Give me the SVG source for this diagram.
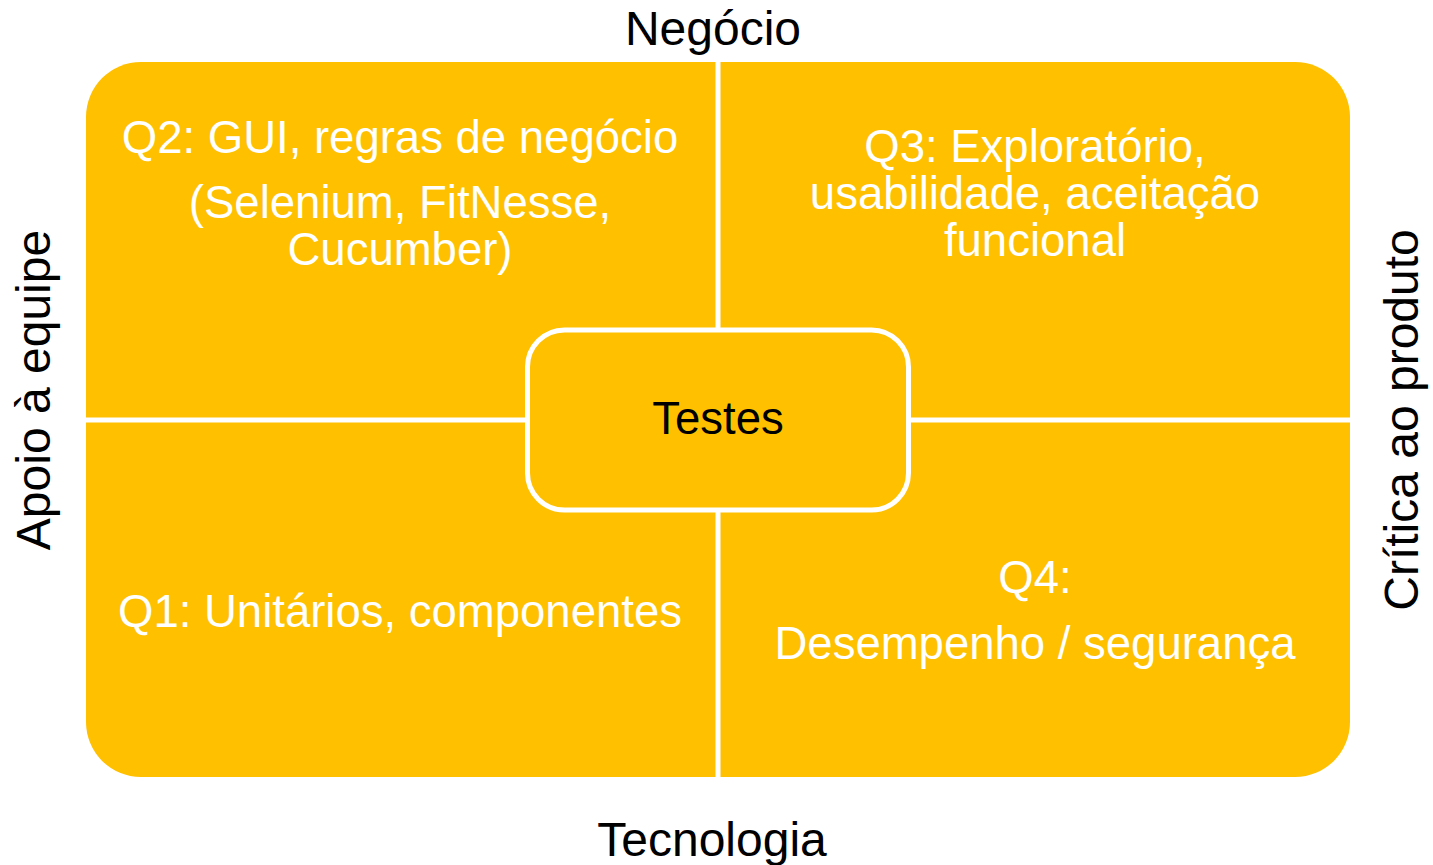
<svg xmlns="http://www.w3.org/2000/svg" width="1433" height="865" viewBox="0 0 1433 865">
<style>
.q{fill:#FFC000;}
.t{font-family:"Liberation Sans",Arial,sans-serif;fill:#FFFFFF;font-size:45.5px;text-anchor:middle;}
.lbl{font-family:"Liberation Sans",Arial,sans-serif;fill:#000000;font-size:48px;text-anchor:middle;}
</style>
<rect width="1433" height="865" fill="#FFFFFF"/>
<g id="q2">
<path class="q" d="M86,117 A55,55 0 0 1 141,62 L715.5,62 L715.5,417.5 L86,417.5 Z"/>
<text class="t" x="400" y="153">Q2: GUI, regras de negócio</text>
<text class="t" x="400" y="218">(Selenium, FitNesse,</text>
<text class="t" x="400" y="265">Cucumber)</text>
</g>
<g id="q3">
<path class="q" d="M720.5,62 L1295,62 A55,55 0 0 1 1350,117 L1350,417.5 L720.5,417.5 Z"/>
<text class="t" x="1035" y="162">Q3: Exploratório,</text>
<text class="t" x="1035" y="209">usabilidade, aceitação</text>
<text class="t" x="1035" y="256">funcional</text>
</g>
<g id="q1">
<path class="q" d="M86,422.5 L715.5,422.5 L715.5,777 L141,777 A55,55 0 0 1 86,722 Z"/>
<text class="t" x="400" y="627">Q1: Unitários, componentes</text>
</g>
<g id="q4">
<path class="q" d="M720.5,422.5 L1350,422.5 L1350,722 A55,55 0 0 1 1295,777 L720.5,777 Z"/>
<text class="t" x="1035" y="593">Q4:</text>
<text class="t" x="1035" y="659">Desempenho / segurança</text>
</g>
<g id="center">
<rect x="527.5" y="330" width="381" height="180" rx="37" ry="37" fill="#FFC000" stroke="#FFFFFF" stroke-width="5"/>
<text class="lbl" x="718" y="434" style="font-size:45.5px">Testes</text>
</g>
<g id="labels">
<text class="lbl" x="713" y="45">Negócio</text>
<text class="lbl" x="712" y="856">Tecnologia</text>
<text class="lbl" transform="translate(50,390) rotate(-90)">Apoio à equipe</text>
<text class="lbl" transform="translate(1418,420) rotate(-90)">Crítica ao produto</text>
</g>
<g id="connectors"></g>
</svg>
